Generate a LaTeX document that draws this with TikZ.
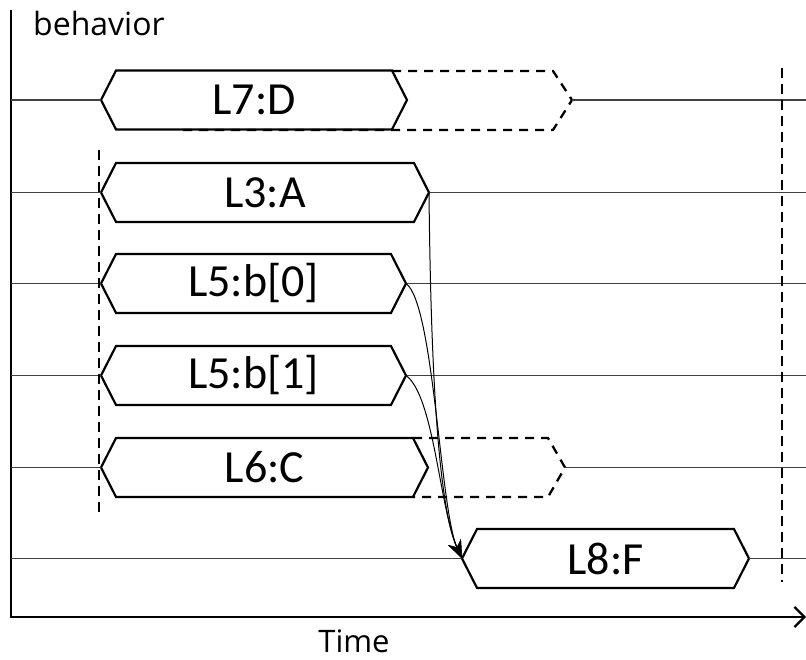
\documentclass[tikz,border=0pt]{standalone}
\usepackage{fontspec}
\setmainfont{Carlito}
\newfontfamily\axisfont{Open Sans}
\usetikzlibrary{arrows.meta, positioning, shapes.symbols, calc}

\begin{document}
\begin{tikzpicture}[x=1pt, y=1pt,
    box/.style={draw, line width=2.2pt, shape=signal, signal from=nowhere, signal to=west and east,
                signal pointer angle=126, minimum height=59pt, inner sep=0pt, outer sep=0pt,
                font=\fontsize{46}{46}\selectfont},
    trace/.style={draw=black!75, line width=1.4pt},
    ghost/.style={line width=2.3pt, dash pattern=on 9pt off 7pt},
    marker/.style={line width=2.5pt, dash pattern=on 10pt off 6pt},
    dep/.style={line width=1pt, -{Stealth[length=18pt, width=14pt]}},
    axis/.style={line width=2.2pt}]

    \useasboundingbox (0,0) rectangle (806,660);

    % axes
    \coordinate (o) at (11,43);
    \coordinate (xr) at (806,43);
    \coordinate (ytop) at (11,650);
    \draw[axis, -{Straight Barb[length=10pt, width=20pt]}] (ytop) -- (o) -- (xr);
    \node[font=\axisfont\fontsize{32}{32}\selectfont, anchor=base west, inner sep=0pt] (ylabel) at (33,624) {behavior};
    \node[font=\axisfont\fontsize{31}{31}\selectfont, anchor=base] (xlabel) at (354,7) {Time};

    % statements over time
    \node[box, minimum width=306pt] (D)  at (254,560)     {L7:D};
    \node[box, minimum width=328pt] (A)  at (265,467.5)   {L3:A};
    \node[box, minimum width=305pt] (b0) at (253.5,376.5) {L5:b[0]};
    \node[box, minimum width=305pt] (b1) at (253.5,284.5) {L5:b[1]};
    \node[box, minimum width=327pt] (C)  at (264.5,192.5) {L6:C};
    \node[box, minimum width=287pt] (F)  at (605.5,101.5) {L8:F};

    % dashed continuation of D and C
    \coordinate (Dx) at (572,560);
    \coordinate (Cx) at (565,192.5);
    \draw[ghost] (392,589) -- (553,589) -- (Dx) -- (553,530) -- (180,530);
    \draw[ghost] (413,222) -- (548,222) -- (Cx) -- (548,163) -- (413,163);

    % signal lines
    \draw[trace] (o |- D) -- (D.west);
    \draw[trace] (o |- A) -- (A.west);
    \draw[trace] (o |- b0) -- (b0.west);
    \draw[trace] (o |- b1) -- (b1.west);
    \draw[trace] (o |- C) -- (C.west);
    \draw[trace] (o |- F) -- (F.west);
    \draw[trace] (Dx) -- (Dx -| xr);
    \draw[trace] (A.east) -- (A.east -| xr);
    \draw[trace] (b0.east) -- (b0.east -| xr);
    \draw[trace] (b1.east) -- (b1.east -| xr);
    \draw[trace] (Cx) -- (Cx -| xr);
    \draw[trace] (F.east) -- (F.east -| xr);

    % sync markers
    \coordinate (s0) at (99,510);
    \coordinate (s1) at (99,147);
    \coordinate (e0) at (782,592);
    \coordinate (e1) at (782,78);
    \draw[marker] (s0) -- (s1);
    \draw[marker] (e0) -- (e1);

    % dependencies
    \draw[dep] (A.east) .. controls +(2,-200) and +(-22,48) .. (F.west);
    \draw[dep] (b0.east) .. controls +(28,-20) and +(-22,48) .. (F.west);
    \draw[dep] (b1.east) .. controls +(28,-20) and +(-22,48) .. (F.west);
\end{tikzpicture}
\end{document}
